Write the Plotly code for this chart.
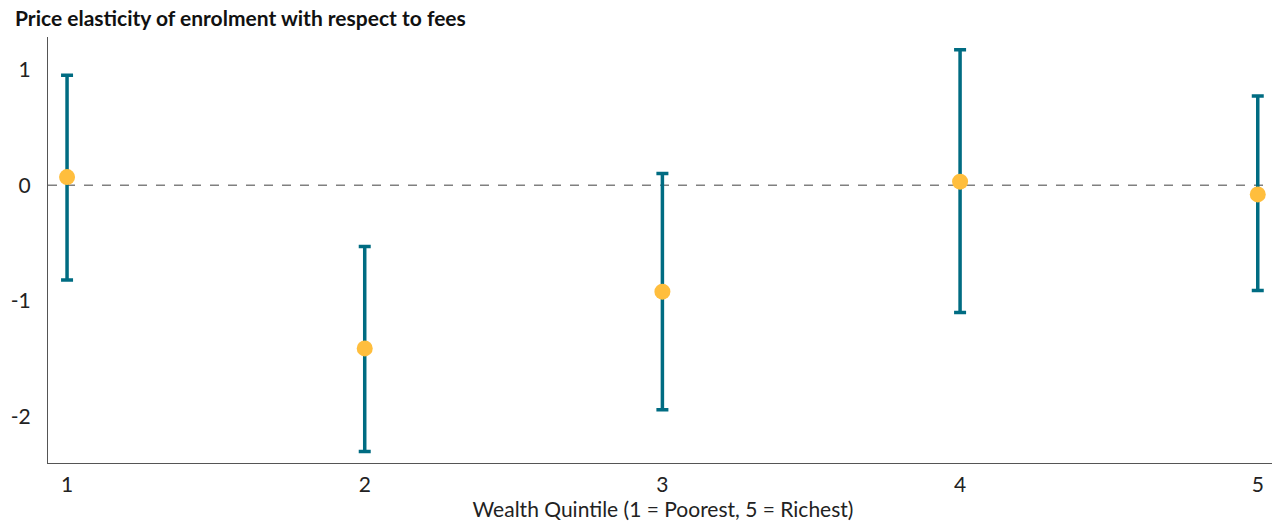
import plotly.graph_objects as go

quintiles = [1, 2, 3, 4, 5]
estimates = [0.07, -1.41, -0.92, 0.03, -0.08]
upper = [0.95, -0.53, 0.10, 1.17, 0.77]
lower = [-0.82, -2.30, -1.94, -1.10, -0.91]
y_ticks = [-2, -1, 0, 1]
y_tick_text = ["-2", "-1", "0", "1"]

err_plus = [u - e for u, e in zip(upper, estimates)]
err_minus = [e - l for e, l in zip(estimates, lower)]

W, H = 1272, 515

fig = go.Figure()
fig.add_hline(y=0, line=dict(color="#808080", width=1.5, dash="dash"), layer="below")
fig.add_trace(go.Scatter(
    x=quintiles, y=estimates, mode="markers",
    marker=dict(color="#FFBE3D", size=16, line=dict(width=0)),
    error_y=dict(type="data", symmetric=False, array=err_plus, arrayminus=err_minus,
                 color="#006C82", thickness=3.5, width=6),
    showlegend=False,
))
fig.update_layout(
    width=W, height=H,
    margin=dict(l=40, r=2, t=29, b=60),
    paper_bgcolor="white", plot_bgcolor="white",
    font=dict(family="Lato", size=21, color="#222"),
    title=dict(text="<b>Price elasticity of enrolment with respect to fees</b>",
               x=7 / W, xref="container", xanchor="left", y=1 - 11 / H, yref="container",
               yanchor="middle",
               font=dict(family="Lato", size=21, color="#111")),
    xaxis=dict(range=[0.936, 5.068], tickvals=quintiles, ticktext=[str(q) for q in quintiles],
               showgrid=False, zeroline=False, showline=True, linecolor="#555", linewidth=1,
               ticks="", automargin=False, ticklabelstandoff=3,
               title=dict(text="Wealth Quintile (1 = Poorest, 5 = Richest)", standoff=0,
                          font=dict(size=21))),
    yaxis=dict(range=[-2.4, 1.28], tickvals=y_ticks, ticktext=y_tick_text, showgrid=False,
               zeroline=False, automargin=False,
               showline=True, linecolor="#555", linewidth=1, ticks="", ticklabelstandoff=12),
)
fig.write_html("out.html")
